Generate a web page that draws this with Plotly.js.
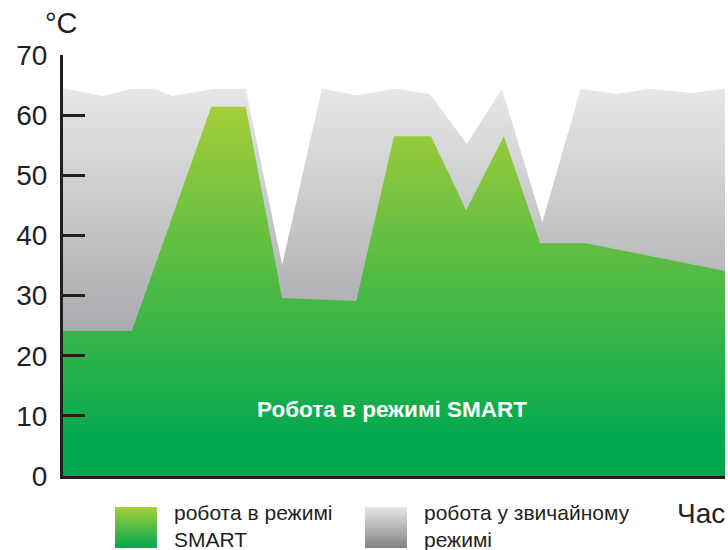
<!DOCTYPE html>
<html>
<head>
<meta charset="utf-8">
<script src="https://cdn.plot.ly/plotly-3.0.1.min.js"></script>
<style>
html,body{margin:0;padding:0;background:#fff;}
#chart{width:728px;height:550px;}
</style>
</head>
<body>
<div id="chart"></div>
<script>
// Time (arbitrary units, axis has no labels) and temperature (°C)
const timeNormal = [0, 6.0, 10.3, 13.9, 16.5, 23.0, 27.6, 33.1, 39.1, 44.4, 50.3, 55.4, 61.0, 66.3, 72.4, 78.2, 83.7, 88.7, 94.9, 100];
const tempNormal = [64.5, 63.2, 64.4, 64.4, 63.2, 64.4, 64.4, 35.1, 64.4, 63.3, 64.4, 63.5, 55.2, 64.4, 42.2, 64.4, 63.5, 64.4, 63.7, 64.4];

const timeSmart = [0, 10.4, 22.4, 27.6, 33.1, 44.3, 50.0, 55.6, 60.9, 66.6, 72.1, 79.0, 100];
const tempSmart = [24.1, 24.1, 61.4, 61.4, 29.6, 29.1, 56.5, 56.5, 44.2, 56.5, 38.7, 38.7, 34.1];

const yTicks = [0, 10, 20, 30, 40, 50, 60, 70];
const xEndTick = [100];

const nameSmart = 'робота в режимі<br>SMART';
const nameNormal = 'робота у звичайному<br>режимі';
const insideLabel = 'Робота в режимі SMART';
const yUnit = '°C';
const xTitle = 'Час';

const ink = '#231f20';
const font = 'Liberation Sans, Arial, sans-serif';

const traces = [
  {
    x: timeNormal, y: tempNormal, type: 'scatter', mode: 'lines',
    fill: 'tozeroy', name: nameNormal,
    line: {width: 0, color: 'rgba(0,0,0,0)'},
    fillgradient: {type: 'vertical', start: 0, stop: 65,
      colorscale: [[0, '#858689'], [1, '#e7e8e9']]},
    hoverinfo: 'skip', showlegend: false
  },
  {
    x: timeSmart, y: tempSmart, type: 'scatter', mode: 'lines',
    fill: 'tozeroy', name: nameSmart,
    line: {width: 0, color: 'rgba(0,0,0,0)'},
    fillgradient: {type: 'vertical', start: 0, stop: 62,
      colorscale: [[0, '#00a651'], [0.08, '#00a84f'], [1, '#a6ce39']]},
    hoverinfo: 'skip', showlegend: false
  }
];

function swatch(top, bottom) {
  const svg = '<svg xmlns="http://www.w3.org/2000/svg" width="42" height="41" viewBox="0 0 42 41">' +
    '<defs><linearGradient id="g" x1="0" y1="0" x2="0" y2="1">' +
    '<stop offset="0" stop-color="' + top + '"/><stop offset="1" stop-color="' + bottom + '"/>' +
    '</linearGradient></defs><rect width="42" height="41" fill="url(#g)"/></svg>';
  return 'data:image/svg+xml;charset=utf-8,' + encodeURIComponent(svg);
}

const layout = {
  width: 728, height: 550,
  margin: {l: 63, r: 3, t: 55, b: 74},
  paper_bgcolor: '#ffffff', plot_bgcolor: '#ffffff',
  showlegend: false,
  font: {family: font, color: ink},
  xaxis: {
    range: [0, 100], showgrid: false, zeroline: false,
    showline: true, linecolor: ink, linewidth: 3,
    tickvals: xEndTick, ticks: 'inside', ticklen: 22, tickwidth: 3, tickcolor: ink,
    showticklabels: false, fixedrange: true
  },
  yaxis: {
    range: [0, 70], showgrid: false, zeroline: false,
    showline: true, linecolor: ink, linewidth: 3,
    tickvals: yTicks, ticks: 'inside', ticklen: 22, tickwidth: 3, tickcolor: ink,
    tickfont: {size: 28, color: ink, family: font},
    ticklabelstandoff: 7, fixedrange: true
  },
  annotations: [
    {xref: 'paper', yref: 'paper', x: -0.003, y: 1.076, text: yUnit, showarrow: false,
     xanchor: 'center', yanchor: 'middle', font: {size: 29, color: ink, family: font}},
    {xref: 'paper', yref: 'paper', x: 1.003, y: -0.088, text: xTitle, showarrow: false,
     xanchor: 'right', yanchor: 'middle', font: {size: 28, color: ink, family: font}},
    {xref: 'paper', yref: 'paper', x: 0.4977, y: 0.159, text: '<b>' + insideLabel + '</b>', showarrow: false,
     xanchor: 'center', yanchor: 'middle', font: {size: 22.5, color: '#ffffff', family: font}},
    {xref: 'paper', yref: 'paper', x: 0.1647, y: -0.119, text: nameSmart, showarrow: false,
     xanchor: 'left', yanchor: 'middle', align: 'left', font: {size: 21, color: ink, family: font}},
    {xref: 'paper', yref: 'paper', x: 0.5423, y: -0.119, text: nameNormal, showarrow: false,
     xanchor: 'left', yanchor: 'middle', align: 'left', font: {size: 21, color: ink, family: font}}
  ],
  images: [
    {source: swatch('#a6ce39', '#00a84f'), xref: 'paper', yref: 'paper',
     x: 0.0785, y: -0.0736, sizex: 0.0634, sizey: 0.0974, sizing: 'stretch',
     xanchor: 'left', yanchor: 'top', layer: 'above'},
    {source: swatch('#e6e7e8', '#808285'), xref: 'paper', yref: 'paper',
     x: 0.4562, y: -0.0736, sizex: 0.0634, sizey: 0.0974, sizing: 'stretch',
     xanchor: 'left', yanchor: 'top', layer: 'above'}
  ]
};

Plotly.newPlot('chart', traces, layout, {displayModeBar: false, staticPlot: true});
</script>
</body>
</html>
